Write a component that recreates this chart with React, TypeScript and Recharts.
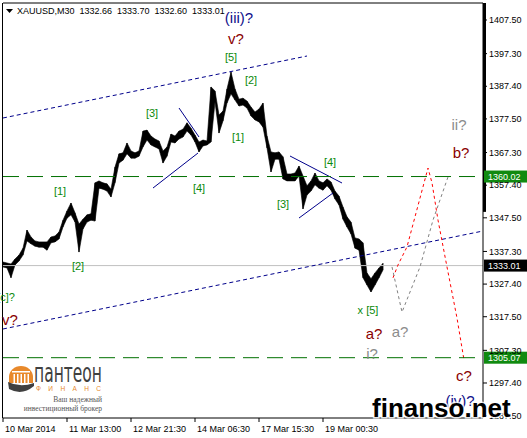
import React from "react";
import { ComposedChart, Area, Bar, Line, XAxis, YAxis, ReferenceLine, ReferenceDot } from "recharts";

const FONT = "'Liberation Sans', Arial, sans-serif";

// XAUUSD M30, one sample every 4 bars starting at the first visible bar (10 Mar 2014)
const STEP = 4;
const barHigh = [
  1334.1, 1333.8, 1333.5, 1335.0, 1336.2, 1338.3, 1343.8, 1341.7, 1340.5, 1340.2, 1340.2, 1340.2,
  1341.7, 1342.0, 1343.2, 1346.8, 1349.6, 1352.0, 1349.0, 1345.6, 1347.1, 1348.4, 1348.7, 1358.1,
  1358.7, 1358.1, 1357.8, 1356.2, 1362.9, 1366.9, 1367.2, 1370.2, 1367.8, 1367.2, 1367.8, 1373.8,
  1374.1, 1372.3, 1371.4, 1370.8, 1367.8, 1369.0, 1372.9, 1372.3, 1373.8, 1374.4, 1376.3, 1374.7,
  1372.6, 1370.5, 1371.1, 1370.8, 1387.2, 1386.0, 1378.7, 1379.9, 1386.6, 1391.7, 1386.6, 1383.5,
  1383.8, 1382.9, 1381.1, 1379.6, 1380.5, 1382.3, 1372.3, 1367.5, 1367.2, 1367.5, 1366.0, 1360.8,
  1360.8, 1361.1, 1363.2, 1360.2, 1357.2, 1358.7, 1361.1, 1358.7, 1358.1, 1359.3, 1358.4, 1355.6,
  1354.1, 1350.8, 1347.8, 1346.2, 1341.4, 1341.1, 1339.9, 1330.8, 1329.0, 1330.8, 1332.3, 1333.7,
];
const barLow = [
  1332.6, 1332.3, 1329.3, 1333.2, 1334.4, 1336.2, 1340.5, 1339.6, 1338.9, 1338.6, 1338.6, 1337.7,
  1339.9, 1340.2, 1341.1, 1344.7, 1347.4, 1348.4, 1346.2, 1337.1, 1344.1, 1346.2, 1346.8, 1346.5,
  1356.5, 1356.2, 1355.6, 1353.8, 1358.1, 1364.1, 1365.0, 1366.9, 1365.6, 1365.6, 1366.2, 1369.0,
  1371.1, 1369.6, 1369.0, 1368.4, 1364.1, 1366.2, 1370.5, 1370.2, 1371.4, 1372.0, 1373.8, 1372.6,
  1370.5, 1367.5, 1369.3, 1369.6, 1370.5, 1382.6, 1373.2, 1376.9, 1382.3, 1385.1, 1383.2, 1381.4,
  1381.7, 1380.8, 1378.4, 1377.2, 1376.6, 1375.0, 1368.7, 1361.4, 1365.3, 1365.3, 1359.3, 1358.7,
  1358.7, 1358.7, 1360.2, 1350.2, 1354.4, 1355.6, 1357.5, 1356.5, 1355.9, 1357.2, 1355.9, 1353.2,
  1351.4, 1347.1, 1344.7, 1342.6, 1338.3, 1337.7, 1329.3, 1327.1, 1325.0, 1327.1, 1329.3, 1331.7,
];

const lastBar = { open: 1332.66, high: 1333.7, low: 1332.6, close: 1333.01 };

const PRICE_MIN = 1286.78;
const PRICE_MAX = 1412.66;
const priceTicks = [1407.5, 1397.3, 1387.4, 1377.5, 1367.3, 1357.4, 1347.5, 1337.3, 1327.4, 1317.5, 1307.3, 1297.4, 1287.5];
const timeTicks = [0, 64, 128, 192, 256, 320];
const timeLabels = ["10 Mar 2014", "11 Mar 13:00", "12 Mar 21:30", "14 Mar 06:30", "17 Mar 15:30", "19 Mar 00:30"];

const levelHigh = 1360.02;
const levelLow = 1305.07;

// channel and wedge trend lines
const channelUpper = [{ t: 0, p: 1377.78 }, { t: 304, p: 1396.58 }];
const channelLower = [{ t: 0, p: 1313.78 }, { t: 480, p: 1343.5 }];
const wedgeLines = [
  [{ t: 176, p: 1380.81 }, { t: 196, p: 1372.01 }],
  [{ t: 150, p: 1356.54 }, { t: 195, p: 1367.16 }],
  [{ t: 287, p: 1366.25 }, { t: 339, p: 1358.06 }],
  [{ t: 296, p: 1347.44 }, { t: 330, p: 1355.03 }],
];

// projected paths
const redPath = [
  { t: 390, p: 1329.3 }, { t: 395, p: 1333.2 }, { t: 404, p: 1338.7 }, { t: 425, p: 1362.6 },
  { t: 429, p: 1358.1 }, { t: 435, p: 1346.8 }, { t: 444, p: 1332.6 }, { t: 454, p: 1317.1 },
  { t: 461, p: 1304.4 },
];
const greyPath = [
  { t: 389, p: 1332.6 }, { t: 399, p: 1318.9 }, { t: 417, p: 1332.6 }, { t: 430, p: 1346.8 },
  { t: 445, p: 1359.9 },
];

const waveLabels = [
  { t: 236, p: 1408.4, text: "(iii)?", kind: "navy" },
  { t: 233, p: 1402.0, text: "v?", kind: "red" },
  { t: 228, p: 1396.3, text: "[5]", kind: "wave" },
  { t: 248, p: 1389.3, text: "[2]", kind: "wave" },
  { t: 235, p: 1372.0, text: "[1]", kind: "wave" },
  { t: 149, p: 1379.3, text: "[3]", kind: "wave" },
  { t: 196, p: 1356.5, text: "[4]", kind: "wave" },
  { t: 57, p: 1355.6, text: "[1]", kind: "wave" },
  { t: 75, p: 1332.9, text: "[2]", kind: "wave" },
  { t: 280, p: 1351.7, text: "[3]", kind: "wave" },
  { t: 327, p: 1364.4, text: "[4]", kind: "wave" },
  { t: 3, p: 1323.5, text: "[c]?", kind: "wave" },
  { t: 7, p: 1316.8, text: "v?", kind: "red" },
  { t: 365, p: 1319.5, text: "x [5]", kind: "wave" },
  { t: 371, p: 1312.3, text: "a?", kind: "red" },
  { t: 397, p: 1312.9, text: "a?", kind: "grey" },
  { t: 369, p: 1306.2, text: "i?", kind: "grey" },
  { t: 456, p: 1375.7, text: "ii?", kind: "grey" },
  { t: 458, p: 1367.2, text: "b?", kind: "red" },
  { t: 461, p: 1299.8, text: "c?", kind: "red" },
  { t: 457, p: 1292.2, text: "(iv)?", kind: "navy" },
];

const labelStyle: Record<string, { fill: string; size: number }> = {
  wave: { fill: "#0a8a0a", size: 11 },
  navy: { fill: "#10108a", size: 15 },
  red: { fill: "#8a0000", size: 15 },
  grey: { fill: "#8c8c8c", size: 15 },
};

const bars = barHigh.map((h, i) => ({ t: i * STEP, range: [barLow[i], h] }));

const TimeTick = (props: any) => {
  const { x, y, payload } = props;
  const i = timeTicks.indexOf(payload.value);
  return (
    <text x={x + 2} y={y + 8} fontSize={9} fontFamily={FONT} fill="#000">
      {timeLabels[i]}
    </text>
  );
};

// horizontal level with a price tag on the axis
const levelShape = (stroke: string, dash: string | undefined, tagFill: string, value: number) => (props: any) => {
  const { x1, y1, x2, y2 } = props;
  const right = Math.max(x1, x2);
  const left = Math.min(x1, x2);
  const y = (y1 + y2) / 2;
  return (
    <g>
      <line x1={left} y1={y} x2={right} y2={y} stroke={stroke} strokeWidth={1} strokeDasharray={dash} />
      <rect x={right + 1} y={y - 6} width={44} height={12} fill={tagFill} />
      <text x={right + 5} y={y + 3.5} fontSize={9} fontFamily={FONT} fill="#fff">
        {value.toFixed(2)}
      </text>
    </g>
  );
};

const labelShape = (text: string, kind: string) => (props: any) => {
  const s = labelStyle[kind];
  return (
    <text x={props.cx} y={props.cy} textAnchor="middle" dominantBaseline="central" fontSize={s.size} fontFamily={FONT} fill={s.fill}>
      {text}
    </text>
  );
};

export default function App() {
  return (
    <div style={{ position: "absolute", left: 0, top: 0, width: 527, height: 438, background: "#fff", fontFamily: FONT }}>
      <ComposedChart width={527} height={438} data={bars} margin={{ top: 3, right: 0, bottom: 0, left: 3 }}>
        <XAxis
          type="number"
          dataKey="t"
          domain={[0, 480]}
          ticks={timeTicks}
          interval={0}
          height={20}
          allowDataOverflow
          axisLine={{ stroke: "#000" }}
          tickLine={{ stroke: "#000" }}
          tickSize={4}
          tick={<TimeTick />}
        />
        <YAxis
          type="number"
          orientation="right"
          domain={[PRICE_MIN, PRICE_MAX]}
          ticks={priceTicks}
          interval={0}
          width={44}
          allowDataOverflow
          axisLine={{ stroke: "#000" }}
          tickLine={{ stroke: "#000" }}
          tickSize={4}
          tickMargin={2}
          tick={{ fontSize: 9, fill: "#000", fontFamily: FONT }}
          tickFormatter={(v: number) => v.toFixed(2)}
        />
        {/* plot frame */}
        <ReferenceLine y={PRICE_MAX} stroke="#000" />
        <ReferenceLine x={-0.5} stroke="#000" ifOverflow="visible" />
        <ReferenceLine segment={[{ x: 481.5, y: PRICE_MAX }, { x: 481.5, y: 1349.3 }]} stroke="#000" strokeWidth={3} ifOverflow="visible" />

        <ReferenceLine y={lastBar.close} stroke="#c0c0c0" shape={levelShape("#c0c0c0", undefined, "#000", lastBar.close)} />

        {/* high-low envelope of the price bars, with the bars themselves on top for the wicks */}
        <Area dataKey="range" type="linear" stroke="#000" strokeWidth={0.6} fill="#000" fillOpacity={1} isAnimationActive={false} />
        <Bar dataKey="range" fill="#000" barSize={2} isAnimationActive={false} />

        <Line data={channelUpper} dataKey="p" type="linear" stroke="#00008b" strokeDasharray="4 3" dot={false} isAnimationActive={false} />
        <Line data={channelLower} dataKey="p" type="linear" stroke="#00008b" strokeDasharray="4 3" dot={false} isAnimationActive={false} />
        {wedgeLines.map((w, i) => (
          <Line key={i} data={w} dataKey="p" type="linear" stroke="#00008b" strokeWidth={1} dot={false} isAnimationActive={false} />
        ))}
        <Line data={redPath} dataKey="p" type="linear" stroke="#ff0000" strokeDasharray="3 3" dot={false} isAnimationActive={false} />
        <Line data={greyPath} dataKey="p" type="linear" stroke="#808080" strokeDasharray="3 3" dot={false} isAnimationActive={false} />

        <ReferenceLine y={levelHigh} stroke="#007000" shape={levelShape("#007000", "16 8", "#108a10", levelHigh)} />
        <ReferenceLine y={levelLow} stroke="#007000" shape={levelShape("#007000", "16 8", "#108a10", levelLow)} />

        {waveLabels.map((l, i) => (
          <ReferenceDot key={i} x={l.t} y={l.p} r={0} ifOverflow="visible" shape={labelShape(l.text, l.kind)} />
        ))}
      </ComposedChart>

      <svg width={527} height={438} style={{ position: "absolute", left: 0, top: 0, pointerEvents: "none" }}>
        <path d="M6 9 L13 9 L9.5 13 Z" fill="#000" />
        <text x={17} y={14} fontSize={9} fontFamily={FONT} fill="#000" style={{ whiteSpace: "pre" }}>
          {`XAUUSD,M30  ${lastBar.open.toFixed(2)}  ${lastBar.high.toFixed(2)}  ${lastBar.low.toFixed(2)}  ${lastBar.close.toFixed(2)}`}
        </text>

        {/* broker logo */}
        <g>
          <path d="M9 383 L9 377 A12 11 0 0 1 33 377 L33 383 Z" fill="#e8892b" />
          <rect x={12} y={371} width={18} height={1.5} fill="#fff" />
          {[13.5, 17, 20.5, 24, 27.5].map((cx) => (
            <rect key={cx} x={cx} y={374} width={1.5} height={9} fill="#fff" />
          ))}
          <path d="M8 382 Q 20 388 34 383 L34 386 Q 22 396 9 389 Z" fill="#404040" />
          <text x={34} y={382} fontSize={26} fontFamily="'DejaVu Sans', sans-serif" fill="#404040" textLength={68} lengthAdjust="spacingAndGlyphs">
            пантеон
          </text>
          <text x={36} y={391} fontSize={6.5} fontFamily={FONT} fill="#e8892b" textLength={65} lengthAdjust="spacing">
            ФИНАНС
          </text>
          <text x={102} y={402} fontSize={7.5} fontFamily="'Liberation Serif', serif" fill="#555" textAnchor="end">
            Ваш надежный
          </text>
          <text x={102} y={411} fontSize={7.5} fontFamily="'Liberation Serif', serif" fill="#555" textAnchor="end">
            инвестиционный брокер
          </text>
        </g>

        <text x={372} y={417} fontSize={26} fontWeight="bold" fontFamily={FONT} fill="#000" stroke="#fff" strokeWidth={3} strokeOpacity={0.8} paintOrder="stroke">
          finanso.net
        </text>
      </svg>
    </div>
  );
}
